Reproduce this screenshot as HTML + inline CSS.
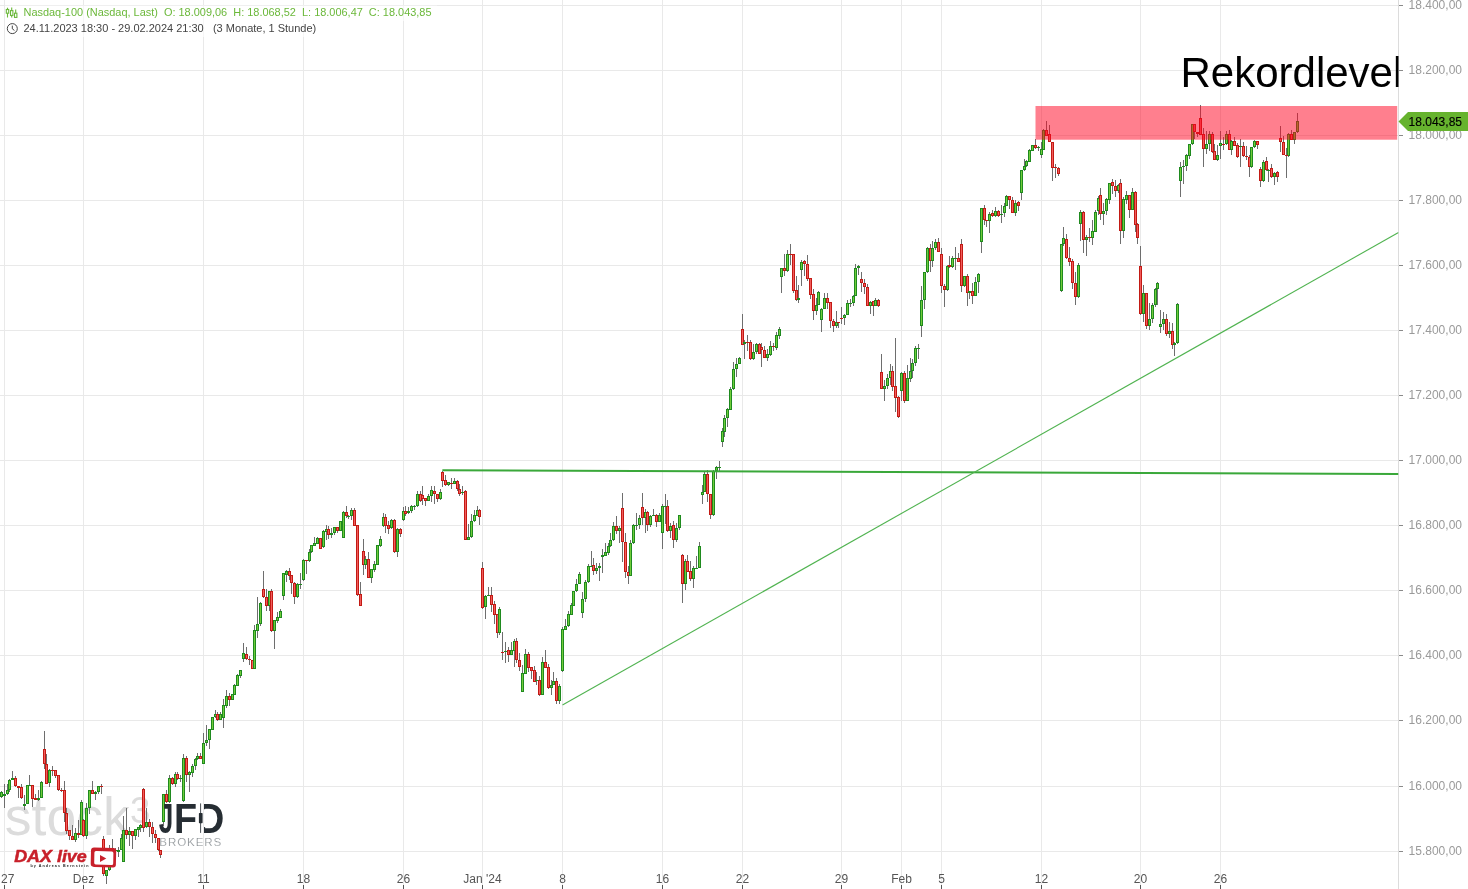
<!DOCTYPE html>
<html lang="de"><head><meta charset="utf-8"><title>Nasdaq-100 Chart</title>
<style>html,body{margin:0;padding:0;background:#fff;overflow:hidden}body{width:1468px;height:889px;position:relative}</style></head>
<body>
<svg width="1468" height="889" viewBox="0 0 1468 889" style="position:absolute;left:0;top:0;will-change:transform">
<defs><clipPath id="cp"><rect x="0" y="0" width="1398.5" height="889"/></clipPath></defs>
<g stroke="#e9e9e9" stroke-width="1">
<line x1="0" y1="5.5" x2="1398" y2="5.5"/>
<line x1="0" y1="70.5" x2="1398" y2="70.5"/>
<line x1="0" y1="135.5" x2="1398" y2="135.5"/>
<line x1="0" y1="200.5" x2="1398" y2="200.5"/>
<line x1="0" y1="265.5" x2="1398" y2="265.5"/>
<line x1="0" y1="330.5" x2="1398" y2="330.5"/>
<line x1="0" y1="395.5" x2="1398" y2="395.5"/>
<line x1="0" y1="460.5" x2="1398" y2="460.5"/>
<line x1="0" y1="525.5" x2="1398" y2="525.5"/>
<line x1="0" y1="590.5" x2="1398" y2="590.5"/>
<line x1="0" y1="655.5" x2="1398" y2="655.5"/>
<line x1="0" y1="720.5" x2="1398" y2="720.5"/>
<line x1="0" y1="786.5" x2="1398" y2="786.5"/>
<line x1="0" y1="851.5" x2="1398" y2="851.5"/>
<line x1="4.5" y1="0" x2="4.5" y2="889"/>
<line x1="83.5" y1="0" x2="83.5" y2="889"/>
<line x1="203.5" y1="0" x2="203.5" y2="889"/>
<line x1="303.5" y1="0" x2="303.5" y2="889"/>
<line x1="403.5" y1="0" x2="403.5" y2="889"/>
<line x1="482.5" y1="0" x2="482.5" y2="889"/>
<line x1="562.5" y1="0" x2="562.5" y2="889"/>
<line x1="662.5" y1="0" x2="662.5" y2="889"/>
<line x1="742.5" y1="0" x2="742.5" y2="889"/>
<line x1="841.5" y1="0" x2="841.5" y2="889"/>
<line x1="901.5" y1="0" x2="901.5" y2="889"/>
<line x1="941.5" y1="0" x2="941.5" y2="889"/>
<line x1="1041.5" y1="0" x2="1041.5" y2="889"/>
<line x1="1140.5" y1="0" x2="1140.5" y2="889"/>
<line x1="1220.5" y1="0" x2="1220.5" y2="889"/>
</g>
<line x1="1398.5" y1="0" x2="1398.5" y2="889" stroke="#dcdcdc" stroke-width="1"/>
<g stroke="#8a8a8a" stroke-width="1">
<line x1="1399" y1="5.5" x2="1403" y2="5.5"/>
<line x1="1399" y1="70.5" x2="1403" y2="70.5"/>
<line x1="1399" y1="135.5" x2="1403" y2="135.5"/>
<line x1="1399" y1="200.5" x2="1403" y2="200.5"/>
<line x1="1399" y1="265.5" x2="1403" y2="265.5"/>
<line x1="1399" y1="330.5" x2="1403" y2="330.5"/>
<line x1="1399" y1="395.5" x2="1403" y2="395.5"/>
<line x1="1399" y1="460.5" x2="1403" y2="460.5"/>
<line x1="1399" y1="525.5" x2="1403" y2="525.5"/>
<line x1="1399" y1="590.5" x2="1403" y2="590.5"/>
<line x1="1399" y1="655.5" x2="1403" y2="655.5"/>
<line x1="1399" y1="720.5" x2="1403" y2="720.5"/>
<line x1="1399" y1="786.5" x2="1403" y2="786.5"/>
<line x1="1399" y1="851.5" x2="1403" y2="851.5"/>
</g>
<g font-family="Liberation Sans, Arial, sans-serif" font-size="12" fill="#9a9a9a">
<text x="1408.6" y="9.2">18.400,00</text>
<text x="1408.6" y="74.2">18.200,00</text>
<text x="1408.6" y="139.2">18.000,00</text>
<text x="1408.6" y="204.2">17.800,00</text>
<text x="1408.6" y="269.2">17.600,00</text>
<text x="1408.6" y="334.2">17.400,00</text>
<text x="1408.6" y="399.2">17.200,00</text>
<text x="1408.6" y="464.2">17.000,00</text>
<text x="1408.6" y="529.2">16.800,00</text>
<text x="1408.6" y="594.2">16.600,00</text>
<text x="1408.6" y="659.2">16.400,00</text>
<text x="1408.6" y="724.2">16.200,00</text>
<text x="1408.6" y="790.2">16.000,00</text>
<text x="1408.6" y="855.2">15.800,00</text>
</g>
<g stroke="#555" stroke-width="1">
<line x1="4.5" y1="885" x2="4.5" y2="889"/>
<line x1="83.5" y1="885" x2="83.5" y2="889"/>
<line x1="203.5" y1="885" x2="203.5" y2="889"/>
<line x1="303.5" y1="885" x2="303.5" y2="889"/>
<line x1="403.5" y1="885" x2="403.5" y2="889"/>
<line x1="482.5" y1="885" x2="482.5" y2="889"/>
<line x1="562.5" y1="885" x2="562.5" y2="889"/>
<line x1="662.5" y1="885" x2="662.5" y2="889"/>
<line x1="742.5" y1="885" x2="742.5" y2="889"/>
<line x1="841.5" y1="885" x2="841.5" y2="889"/>
<line x1="901.5" y1="885" x2="901.5" y2="889"/>
<line x1="941.5" y1="885" x2="941.5" y2="889"/>
<line x1="1041.5" y1="885" x2="1041.5" y2="889"/>
<line x1="1140.5" y1="885" x2="1140.5" y2="889"/>
<line x1="1220.5" y1="885" x2="1220.5" y2="889"/>
</g>
<g font-family="Liberation Sans, Arial, sans-serif" font-size="12" fill="#555" text-anchor="middle">
<text x="1" y="883" text-anchor="start">27</text>
<text x="83.5" y="883">Dez</text>
<text x="203.5" y="883">11</text>
<text x="303.5" y="883">18</text>
<text x="403.5" y="883">26</text>
<text x="482.5" y="883">Jan '24</text>
<text x="562.5" y="883">8</text>
<text x="662.5" y="883">16</text>
<text x="742.5" y="883">22</text>
<text x="841.5" y="883">29</text>
<text x="901.5" y="883">Feb</text>
<text x="941.5" y="883">5</text>
<text x="1041.5" y="883">12</text>
<text x="1140.5" y="883">20</text>
<text x="1220.5" y="883">26</text>
</g>
<g font-family="Liberation Sans, Arial, sans-serif" fill="#dcdcdc">
<text x="4.8" y="835" font-size="53.5">stock</text>
<text x="130" y="823" font-size="36.5">3</text>
</g>
<g clip-path="url(#cp)">
<path d="M1.5 791V798M4.5 784V808M7.5 784V795M9.5 779V792M12.5 771V780M15.5 776V787M18.5 786V798M21.5 784V799M24.5 795V810M29.5 775V786M32.5 785V807M35.5 794V800M38.5 790V801M41.5 781V798M44.5 731V769M46.5 754V784M49.5 769V787M52.5 766V776M55.5 770V778M58.5 775V791M61.5 788V792M64.5 781V822M66.5 808V834M69.5 830V840M72.5 825V840M75.5 828V842M78.5 820V838M81.5 800V835M83.5 819V837M86.5 803V839M89.5 790V814M92.5 781V794M95.5 791V800M98.5 786V794M101.5 784V794M103.5 836V876M106.5 870V884M109.5 845V871M112.5 839V851M115.5 848V855M118.5 847V857M121.5 834V850M123.5 816V862M126.5 808V839M129.5 827V846M132.5 831V849M135.5 829V840M138.5 827V837M140.5 824V832M143.5 788V832M146.5 808V828M149.5 819V837M152.5 822V843M155.5 830V843M158.5 838V851M160.5 850V858M163.5 794V826M166.5 790V803M169.5 775V803M172.5 777V785M175.5 772V787M177.5 772V780M180.5 775V782M183.5 754V802M186.5 756V782M189.5 771V792M192.5 764V777M195.5 758V770M197.5 753V760M200.5 753V759M203.5 733V764M206.5 725V746M209.5 729V749M215.5 710V718M217.5 712V721M220.5 712V720M223.5 699V728M226.5 690V708M229.5 693V706M234.5 684V695M237.5 674V686M240.5 670V678M243.5 643V662M246.5 647V660M249.5 656V665M254.5 625V669M257.5 597V638M260.5 602V626M263.5 571V598M266.5 589V611M269.5 591V611M271.5 589V632M274.5 620V649M277.5 612V623M280.5 609V618M283.5 573V600M286.5 570V582M289.5 568V580M291.5 575V594M294.5 582V604M297.5 583V598M300.5 573V589M303.5 559V581M306.5 560V574M309.5 549V562M311.5 545V553M314.5 537V546M317.5 537V544M323.5 530V548M326.5 525V540M328.5 526V539M331.5 528V538M334.5 527V535M337.5 527V533M343.5 511V538M346.5 506V518M348.5 515V519M351.5 508V520M354.5 508V526M357.5 525V596M360.5 582V606M363.5 539V575M365.5 556V569M368.5 552V578M371.5 569V583M374.5 561V572M380.5 536V547M383.5 513V527M385.5 514V533M388.5 521V534M391.5 519V529M394.5 519V553M397.5 528V557M400.5 528V537M403.5 507V521M405.5 506V516M408.5 507V514M411.5 505V513M414.5 505V510M417.5 491V507M420.5 491V502M422.5 486V505M425.5 498V506M428.5 494V501M431.5 486V502M434.5 486V504M437.5 494V502M440.5 489V500M442.5 471V487M445.5 475V486M448.5 482V486M451.5 478V489M454.5 478V484M457.5 480V491M459.5 484V496M462.5 486V495M465.5 490V540M468.5 524V540M471.5 514V538M474.5 510V522M477.5 506V516M479.5 509V525M482.5 562V609M485.5 595V619M488.5 587V596M491.5 587V612M494.5 601V624M497.5 614V638M499.5 607V635M502.5 632V660M505.5 642V663M508.5 647V662M511.5 642V655M514.5 639V667M516.5 638V663M519.5 653V671M522.5 665V692M525.5 649V674M528.5 652V672M531.5 667V679M534.5 666V682M536.5 672V685M539.5 676V696M542.5 657V695M545.5 650V668M548.5 664V689M551.5 680V695M553.5 672V685M556.5 678V704M559.5 684V704M562.5 627V672M565.5 619V630M568.5 611V627M571.5 603V615M576.5 579V592M579.5 572V584M582.5 592V618M585.5 580V602M588.5 564V583M591.5 551V566M593.5 558V575M596.5 563V574M599.5 563V581M602.5 549V573M605.5 543V556M608.5 543V555M610.5 533V547M613.5 522V541M616.5 516V534M619.5 526V543M622.5 493V562M625.5 533V578M628.5 566V584M630.5 540V576M633.5 524V544M636.5 513V530M639.5 515V529M642.5 493V525M645.5 509V533M647.5 511V531M650.5 515V527M653.5 509V516M656.5 514V527M659.5 513V522M662.5 504V549M665.5 494V524M667.5 500V532M670.5 523V538M673.5 521V548M676.5 523V542M679.5 515V530M682.5 554V603M685.5 559V590M687.5 555V572M690.5 561V581M693.5 566V588M696.5 556V569M699.5 542V568M702.5 485V504M704.5 471V492M707.5 470V502M710.5 494V519M713.5 470V516M716.5 466V479M719.5 461V471M722.5 428V447M724.5 415V437M727.5 408V427M730.5 387V410M733.5 362V390M736.5 358V377M739.5 357V364M742.5 314V345M744.5 340V359M747.5 335V351M750.5 340V360M753.5 344V360M756.5 343V354M759.5 343V354M761.5 343V367M764.5 346V358M767.5 349V361M770.5 341V356M773.5 343V351M776.5 332V350M779.5 327V339M781.5 268V293M784.5 254V276M787.5 250V272M790.5 244V265M793.5 254V293M796.5 276V301M798.5 285V303M801.5 260V286M804.5 260V276M807.5 255V281M810.5 278V299M813.5 289V320M816.5 298V315M818.5 291V305M821.5 308V332M824.5 293V309M827.5 293V309M830.5 302V328M833.5 319V332M836.5 311V328M838.5 322V328M841.5 307V324M844.5 314V325M847.5 300V315M850.5 299V307M853.5 295V306M855.5 264V296M858.5 265V275M861.5 272V292M864.5 279V294M867.5 284V306M870.5 301V314M873.5 301V316M875.5 298V306M878.5 299V307M881.5 354V389M884.5 380V401M887.5 374V389M890.5 364V385M892.5 366V391M895.5 338V412M898.5 396V418M901.5 372V401M904.5 371V403M907.5 365V401M910.5 358V382M912.5 359V378M915.5 346V366M918.5 344V359M921.5 286V337M924.5 272V309M927.5 247V273M930.5 244V272M932.5 241V267M935.5 239V250M938.5 238V252M941.5 248V293M944.5 284V307M947.5 265V291M949.5 256V268M952.5 256V268M955.5 247V270M958.5 253V262M961.5 239V292M964.5 276V287M967.5 274V306M969.5 291V299M972.5 283V304M975.5 277V296M978.5 273V293M981.5 208V253M984.5 205V225M986.5 220V227M989.5 212V233M992.5 210V217M995.5 207V217M998.5 210V217M1001.5 205V223M1004.5 203V217M1006.5 195V206M1009.5 196V209M1012.5 197V213M1015.5 200V216M1018.5 201V211M1021.5 170V200M1024.5 159V171M1026.5 160V167M1029.5 149V162M1035.5 139V149M1038.5 146V151M1041.5 142V158M1043.5 129V150M1046.5 121V136M1049.5 125V142M1052.5 142V181M1055.5 164V178M1058.5 167V176M1061.5 244V292M1063.5 227V246M1066.5 234V259M1069.5 247V266M1072.5 259V289M1075.5 272V305M1078.5 263V298M1080.5 210V241M1083.5 211V253M1086.5 235V256M1089.5 228V242M1092.5 220V245M1095.5 210V232M1098.5 196V215M1100.5 188V220M1103.5 203V225M1106.5 198V215M1109.5 183V204M1112.5 179V194M1115.5 180V197M1118.5 184V193M1120.5 179V244M1123.5 197V238M1126.5 191V204M1129.5 195V218M1132.5 188V210M1135.5 191V232M1137.5 223V244M1140.5 246V315M1143.5 285V322M1146.5 293V329M1149.5 303V330M1152.5 303V323M1155.5 288V307M1157.5 282V305M1160.5 310V333M1163.5 312V330M1166.5 314V336M1169.5 322V338M1172.5 323V349M1174.5 342V356M1177.5 303V344M1180.5 162V197M1183.5 160V184M1186.5 154V171M1189.5 144V159M1192.5 124V145M1194.5 124V139M1197.5 132V137M1200.5 105V135M1203.5 128V167M1206.5 131V154M1209.5 131V151M1212.5 132V153M1214.5 144V160M1217.5 145V161M1220.5 131V159M1223.5 137V150M1226.5 131V145M1229.5 130V150M1231.5 140V155M1234.5 137V146M1237.5 143V158M1240.5 139V167M1243.5 142V157M1246.5 146V160M1249.5 155V177M1251.5 147V168M1254.5 140V148M1257.5 141V149M1260.5 167V187M1263.5 160V182M1266.5 157V171M1268.5 169V182M1271.5 164V178M1274.5 172V185M1277.5 171V182M1280.5 126V152M1283.5 136V155M1286.5 148V178M1288.5 133V157M1291.5 130V140M1294.5 132V144M1297.5 113V133" stroke="#6e6e6e" stroke-width="1" fill="none"/>
<g stroke-width="1"><rect x="0.5" y="792.5" width="2" height="4" fill="#70cc3a" stroke="#1f8a1f"/><rect x="3.5" y="794.5" width="2" height="1" fill="#70cc3a" stroke="#1f8a1f"/><rect x="6.5" y="790.5" width="2" height="3" fill="#70cc3a" stroke="#1f8a1f"/><rect x="8.5" y="780.5" width="2" height="9" fill="#70cc3a" stroke="#1f8a1f"/><rect x="11.5" y="778.5" width="2" height="1" fill="#70cc3a" stroke="#1f8a1f"/><rect x="14.5" y="778.5" width="2" height="7" fill="#f25c5c" stroke="#c21a14"/><rect x="17.5" y="786.5" width="2" height="1" fill="#f25c5c" stroke="#c21a14"/><rect x="20.5" y="787.5" width="2" height="10" fill="#f25c5c" stroke="#c21a14"/><rect x="23.5" y="804.5" width="2" height="1" fill="#70cc3a" stroke="#1f8a1f"/><rect x="26.5" y="785.5" width="2" height="18" fill="#70cc3a" stroke="#1f8a1f"/><rect x="31.5" y="785.5" width="2" height="13" fill="#f25c5c" stroke="#c21a14"/><rect x="34.5" y="798.5" width="2" height="1" fill="#f25c5c" stroke="#c21a14"/><rect x="37.5" y="798.5" width="2" height="1" fill="#70cc3a" stroke="#1f8a1f"/><rect x="40.5" y="782.5" width="2" height="15" fill="#70cc3a" stroke="#1f8a1f"/><rect x="43.5" y="749.5" width="2" height="14" fill="#f25c5c" stroke="#c21a14"/><rect x="45.5" y="764.5" width="2" height="19" fill="#f25c5c" stroke="#c21a14"/><rect x="48.5" y="770.5" width="2" height="12" fill="#70cc3a" stroke="#1f8a1f"/><rect x="54.5" y="770.5" width="2" height="5" fill="#f25c5c" stroke="#c21a14"/><rect x="57.5" y="775.5" width="2" height="14" fill="#f25c5c" stroke="#c21a14"/><rect x="63.5" y="790.5" width="2" height="22" fill="#f25c5c" stroke="#c21a14"/><rect x="65.5" y="813.5" width="2" height="17" fill="#f25c5c" stroke="#c21a14"/><rect x="68.5" y="830.5" width="2" height="5" fill="#f25c5c" stroke="#c21a14"/><rect x="71.5" y="836.5" width="2" height="3" fill="#f25c5c" stroke="#c21a14"/><rect x="74.5" y="833.5" width="2" height="6" fill="#70cc3a" stroke="#1f8a1f"/><rect x="77.5" y="833.5" width="2" height="1" fill="#f25c5c" stroke="#c21a14"/><rect x="80.5" y="802.5" width="2" height="32" fill="#70cc3a" stroke="#1f8a1f"/><rect x="82.5" y="820.5" width="2" height="15" fill="#f25c5c" stroke="#c21a14"/><rect x="85.5" y="808.5" width="2" height="27" fill="#70cc3a" stroke="#1f8a1f"/><rect x="88.5" y="790.5" width="2" height="17" fill="#70cc3a" stroke="#1f8a1f"/><rect x="91.5" y="790.5" width="2" height="3" fill="#f25c5c" stroke="#c21a14"/><rect x="94.5" y="792.5" width="2" height="1" fill="#70cc3a" stroke="#1f8a1f"/><rect x="97.5" y="786.5" width="2" height="5" fill="#70cc3a" stroke="#1f8a1f"/><rect x="102.5" y="839.5" width="2" height="34" fill="#f25c5c" stroke="#c21a14"/><rect x="105.5" y="870.5" width="2" height="5" fill="#70cc3a" stroke="#1f8a1f"/><rect x="108.5" y="848.5" width="2" height="21" fill="#70cc3a" stroke="#1f8a1f"/><rect x="111.5" y="848.5" width="2" height="1" fill="#f25c5c" stroke="#c21a14"/><rect x="117.5" y="850.5" width="2" height="1" fill="#70cc3a" stroke="#1f8a1f"/><rect x="120.5" y="838.5" width="2" height="11" fill="#70cc3a" stroke="#1f8a1f"/><rect x="122.5" y="830.5" width="2" height="31" fill="#70cc3a" stroke="#1f8a1f"/><rect x="125.5" y="830.5" width="2" height="4" fill="#f25c5c" stroke="#c21a14"/><rect x="128.5" y="831.5" width="2" height="3" fill="#70cc3a" stroke="#1f8a1f"/><rect x="131.5" y="831.5" width="2" height="4" fill="#f25c5c" stroke="#c21a14"/><rect x="134.5" y="829.5" width="2" height="6" fill="#70cc3a" stroke="#1f8a1f"/><rect x="137.5" y="827.5" width="2" height="2" fill="#70cc3a" stroke="#1f8a1f"/><rect x="139.5" y="825.5" width="2" height="2" fill="#70cc3a" stroke="#1f8a1f"/><rect x="142.5" y="789.5" width="2" height="38" fill="#f25c5c" stroke="#c21a14"/><rect x="145.5" y="822.5" width="2" height="4" fill="#70cc3a" stroke="#1f8a1f"/><rect x="148.5" y="822.5" width="2" height="4" fill="#f25c5c" stroke="#c21a14"/><rect x="151.5" y="827.5" width="2" height="6" fill="#f25c5c" stroke="#c21a14"/><rect x="154.5" y="834.5" width="2" height="3" fill="#f25c5c" stroke="#c21a14"/><rect x="157.5" y="838.5" width="2" height="11" fill="#f25c5c" stroke="#c21a14"/><rect x="159.5" y="850.5" width="2" height="4" fill="#f25c5c" stroke="#c21a14"/><rect x="162.5" y="794.5" width="2" height="27" fill="#70cc3a" stroke="#1f8a1f"/><rect x="165.5" y="794.5" width="2" height="7" fill="#f25c5c" stroke="#c21a14"/><rect x="168.5" y="778.5" width="2" height="23" fill="#70cc3a" stroke="#1f8a1f"/><rect x="171.5" y="778.5" width="2" height="5" fill="#f25c5c" stroke="#c21a14"/><rect x="174.5" y="774.5" width="2" height="9" fill="#70cc3a" stroke="#1f8a1f"/><rect x="176.5" y="774.5" width="2" height="4" fill="#f25c5c" stroke="#c21a14"/><rect x="182.5" y="758.5" width="2" height="42" fill="#70cc3a" stroke="#1f8a1f"/><rect x="185.5" y="758.5" width="2" height="16" fill="#f25c5c" stroke="#c21a14"/><rect x="188.5" y="772.5" width="2" height="2" fill="#70cc3a" stroke="#1f8a1f"/><rect x="191.5" y="766.5" width="2" height="6" fill="#70cc3a" stroke="#1f8a1f"/><rect x="194.5" y="759.5" width="2" height="6" fill="#70cc3a" stroke="#1f8a1f"/><rect x="196.5" y="756.5" width="2" height="2" fill="#70cc3a" stroke="#1f8a1f"/><rect x="199.5" y="756.5" width="2" height="2" fill="#f25c5c" stroke="#c21a14"/><rect x="202.5" y="743.5" width="2" height="20" fill="#70cc3a" stroke="#1f8a1f"/><rect x="205.5" y="740.5" width="2" height="2" fill="#70cc3a" stroke="#1f8a1f"/><rect x="208.5" y="729.5" width="2" height="10" fill="#70cc3a" stroke="#1f8a1f"/><rect x="211.5" y="717.5" width="2" height="12" fill="#70cc3a" stroke="#1f8a1f"/><rect x="214.5" y="714.5" width="2" height="2" fill="#70cc3a" stroke="#1f8a1f"/><rect x="216.5" y="714.5" width="2" height="5" fill="#f25c5c" stroke="#c21a14"/><rect x="219.5" y="714.5" width="2" height="5" fill="#70cc3a" stroke="#1f8a1f"/><rect x="222.5" y="705.5" width="2" height="12" fill="#70cc3a" stroke="#1f8a1f"/><rect x="225.5" y="696.5" width="2" height="9" fill="#70cc3a" stroke="#1f8a1f"/><rect x="228.5" y="696.5" width="2" height="3" fill="#f25c5c" stroke="#c21a14"/><rect x="231.5" y="694.5" width="2" height="5" fill="#70cc3a" stroke="#1f8a1f"/><rect x="233.5" y="685.5" width="2" height="9" fill="#70cc3a" stroke="#1f8a1f"/><rect x="236.5" y="675.5" width="2" height="10" fill="#70cc3a" stroke="#1f8a1f"/><rect x="239.5" y="670.5" width="2" height="5" fill="#70cc3a" stroke="#1f8a1f"/><rect x="242.5" y="653.5" width="2" height="5" fill="#70cc3a" stroke="#1f8a1f"/><rect x="245.5" y="654.5" width="2" height="4" fill="#f25c5c" stroke="#c21a14"/><rect x="251.5" y="660.5" width="2" height="8" fill="#f25c5c" stroke="#c21a14"/><rect x="253.5" y="630.5" width="2" height="38" fill="#70cc3a" stroke="#1f8a1f"/><rect x="256.5" y="624.5" width="2" height="6" fill="#70cc3a" stroke="#1f8a1f"/><rect x="259.5" y="603.5" width="2" height="20" fill="#70cc3a" stroke="#1f8a1f"/><rect x="262.5" y="589.5" width="2" height="7" fill="#f25c5c" stroke="#c21a14"/><rect x="265.5" y="597.5" width="2" height="8" fill="#f25c5c" stroke="#c21a14"/><rect x="268.5" y="591.5" width="2" height="14" fill="#70cc3a" stroke="#1f8a1f"/><rect x="270.5" y="591.5" width="2" height="39" fill="#f25c5c" stroke="#c21a14"/><rect x="273.5" y="620.5" width="2" height="10" fill="#70cc3a" stroke="#1f8a1f"/><rect x="276.5" y="617.5" width="2" height="3" fill="#70cc3a" stroke="#1f8a1f"/><rect x="279.5" y="611.5" width="2" height="6" fill="#70cc3a" stroke="#1f8a1f"/><rect x="282.5" y="573.5" width="2" height="22" fill="#70cc3a" stroke="#1f8a1f"/><rect x="285.5" y="571.5" width="2" height="3" fill="#70cc3a" stroke="#1f8a1f"/><rect x="288.5" y="571.5" width="2" height="4" fill="#f25c5c" stroke="#c21a14"/><rect x="290.5" y="575.5" width="2" height="7" fill="#f25c5c" stroke="#c21a14"/><rect x="293.5" y="583.5" width="2" height="13" fill="#f25c5c" stroke="#c21a14"/><rect x="296.5" y="584.5" width="2" height="12" fill="#70cc3a" stroke="#1f8a1f"/><rect x="302.5" y="560.5" width="2" height="19" fill="#70cc3a" stroke="#1f8a1f"/><rect x="308.5" y="552.5" width="2" height="8" fill="#70cc3a" stroke="#1f8a1f"/><rect x="310.5" y="545.5" width="2" height="6" fill="#70cc3a" stroke="#1f8a1f"/><rect x="313.5" y="543.5" width="2" height="2" fill="#70cc3a" stroke="#1f8a1f"/><rect x="316.5" y="538.5" width="2" height="5" fill="#70cc3a" stroke="#1f8a1f"/><rect x="319.5" y="538.5" width="2" height="10" fill="#f25c5c" stroke="#c21a14"/><rect x="322.5" y="531.5" width="2" height="15" fill="#70cc3a" stroke="#1f8a1f"/><rect x="325.5" y="529.5" width="2" height="2" fill="#70cc3a" stroke="#1f8a1f"/><rect x="327.5" y="529.5" width="2" height="5" fill="#f25c5c" stroke="#c21a14"/><rect x="330.5" y="533.5" width="2" height="1" fill="#70cc3a" stroke="#1f8a1f"/><rect x="333.5" y="527.5" width="2" height="5" fill="#70cc3a" stroke="#1f8a1f"/><rect x="336.5" y="527.5" width="2" height="3" fill="#f25c5c" stroke="#c21a14"/><rect x="339.5" y="521.5" width="2" height="9" fill="#70cc3a" stroke="#1f8a1f"/><rect x="342.5" y="512.5" width="2" height="25" fill="#70cc3a" stroke="#1f8a1f"/><rect x="345.5" y="512.5" width="2" height="3" fill="#f25c5c" stroke="#c21a14"/><rect x="350.5" y="510.5" width="2" height="5" fill="#70cc3a" stroke="#1f8a1f"/><rect x="353.5" y="510.5" width="2" height="15" fill="#f25c5c" stroke="#c21a14"/><rect x="356.5" y="525.5" width="2" height="69" fill="#f25c5c" stroke="#c21a14"/><rect x="359.5" y="594.5" width="2" height="11" fill="#f25c5c" stroke="#c21a14"/><rect x="362.5" y="551.5" width="2" height="13" fill="#f25c5c" stroke="#c21a14"/><rect x="364.5" y="559.5" width="2" height="5" fill="#70cc3a" stroke="#1f8a1f"/><rect x="367.5" y="559.5" width="2" height="18" fill="#f25c5c" stroke="#c21a14"/><rect x="370.5" y="569.5" width="2" height="8" fill="#70cc3a" stroke="#1f8a1f"/><rect x="373.5" y="564.5" width="2" height="5" fill="#70cc3a" stroke="#1f8a1f"/><rect x="376.5" y="545.5" width="2" height="19" fill="#70cc3a" stroke="#1f8a1f"/><rect x="379.5" y="539.5" width="2" height="6" fill="#70cc3a" stroke="#1f8a1f"/><rect x="382.5" y="517.5" width="2" height="8" fill="#70cc3a" stroke="#1f8a1f"/><rect x="384.5" y="517.5" width="2" height="8" fill="#f25c5c" stroke="#c21a14"/><rect x="387.5" y="525.5" width="2" height="3" fill="#f25c5c" stroke="#c21a14"/><rect x="390.5" y="520.5" width="2" height="7" fill="#70cc3a" stroke="#1f8a1f"/><rect x="393.5" y="520.5" width="2" height="31" fill="#f25c5c" stroke="#c21a14"/><rect x="396.5" y="529.5" width="2" height="22" fill="#70cc3a" stroke="#1f8a1f"/><rect x="399.5" y="529.5" width="2" height="4" fill="#f25c5c" stroke="#c21a14"/><rect x="402.5" y="511.5" width="2" height="8" fill="#70cc3a" stroke="#1f8a1f"/><rect x="404.5" y="511.5" width="2" height="2" fill="#f25c5c" stroke="#c21a14"/><rect x="407.5" y="511.5" width="2" height="1" fill="#70cc3a" stroke="#1f8a1f"/><rect x="410.5" y="506.5" width="2" height="4" fill="#70cc3a" stroke="#1f8a1f"/><rect x="416.5" y="494.5" width="2" height="11" fill="#70cc3a" stroke="#1f8a1f"/><rect x="419.5" y="494.5" width="2" height="6" fill="#f25c5c" stroke="#c21a14"/><rect x="421.5" y="495.5" width="2" height="3" fill="#f25c5c" stroke="#c21a14"/><rect x="424.5" y="498.5" width="2" height="2" fill="#f25c5c" stroke="#c21a14"/><rect x="427.5" y="496.5" width="2" height="4" fill="#70cc3a" stroke="#1f8a1f"/><rect x="430.5" y="490.5" width="2" height="5" fill="#70cc3a" stroke="#1f8a1f"/><rect x="433.5" y="491.5" width="2" height="2" fill="#f25c5c" stroke="#c21a14"/><rect x="436.5" y="494.5" width="2" height="4" fill="#f25c5c" stroke="#c21a14"/><rect x="439.5" y="492.5" width="2" height="6" fill="#70cc3a" stroke="#1f8a1f"/><rect x="441.5" y="472.5" width="2" height="8" fill="#f25c5c" stroke="#c21a14"/><rect x="444.5" y="480.5" width="2" height="4" fill="#f25c5c" stroke="#c21a14"/><rect x="447.5" y="482.5" width="2" height="2" fill="#70cc3a" stroke="#1f8a1f"/><rect x="453.5" y="481.5" width="2" height="2" fill="#70cc3a" stroke="#1f8a1f"/><rect x="456.5" y="481.5" width="2" height="7" fill="#f25c5c" stroke="#c21a14"/><rect x="458.5" y="489.5" width="2" height="4" fill="#f25c5c" stroke="#c21a14"/><rect x="464.5" y="491.5" width="2" height="48" fill="#f25c5c" stroke="#c21a14"/><rect x="467.5" y="537.5" width="2" height="2" fill="#70cc3a" stroke="#1f8a1f"/><rect x="470.5" y="521.5" width="2" height="15" fill="#70cc3a" stroke="#1f8a1f"/><rect x="473.5" y="515.5" width="2" height="5" fill="#70cc3a" stroke="#1f8a1f"/><rect x="476.5" y="510.5" width="2" height="5" fill="#70cc3a" stroke="#1f8a1f"/><rect x="478.5" y="510.5" width="2" height="6" fill="#f25c5c" stroke="#c21a14"/><rect x="481.5" y="568.5" width="2" height="39" fill="#f25c5c" stroke="#c21a14"/><rect x="484.5" y="596.5" width="2" height="10" fill="#70cc3a" stroke="#1f8a1f"/><rect x="490.5" y="595.5" width="2" height="9" fill="#f25c5c" stroke="#c21a14"/><rect x="493.5" y="604.5" width="2" height="10" fill="#f25c5c" stroke="#c21a14"/><rect x="496.5" y="614.5" width="2" height="18" fill="#f25c5c" stroke="#c21a14"/><rect x="498.5" y="609.5" width="2" height="23" fill="#70cc3a" stroke="#1f8a1f"/><rect x="507.5" y="650.5" width="2" height="4" fill="#f25c5c" stroke="#c21a14"/><rect x="510.5" y="650.5" width="2" height="4" fill="#70cc3a" stroke="#1f8a1f"/><rect x="513.5" y="641.5" width="2" height="9" fill="#70cc3a" stroke="#1f8a1f"/><rect x="515.5" y="641.5" width="2" height="18" fill="#f25c5c" stroke="#c21a14"/><rect x="518.5" y="660.5" width="2" height="6" fill="#f25c5c" stroke="#c21a14"/><rect x="521.5" y="673.5" width="2" height="18" fill="#70cc3a" stroke="#1f8a1f"/><rect x="524.5" y="654.5" width="2" height="19" fill="#70cc3a" stroke="#1f8a1f"/><rect x="527.5" y="654.5" width="2" height="13" fill="#f25c5c" stroke="#c21a14"/><rect x="530.5" y="667.5" width="2" height="3" fill="#f25c5c" stroke="#c21a14"/><rect x="533.5" y="670.5" width="2" height="11" fill="#f25c5c" stroke="#c21a14"/><rect x="538.5" y="680.5" width="2" height="14" fill="#f25c5c" stroke="#c21a14"/><rect x="541.5" y="662.5" width="2" height="32" fill="#70cc3a" stroke="#1f8a1f"/><rect x="544.5" y="662.5" width="2" height="5" fill="#f25c5c" stroke="#c21a14"/><rect x="547.5" y="667.5" width="2" height="20" fill="#f25c5c" stroke="#c21a14"/><rect x="550.5" y="685.5" width="2" height="2" fill="#70cc3a" stroke="#1f8a1f"/><rect x="552.5" y="681.5" width="2" height="3" fill="#70cc3a" stroke="#1f8a1f"/><rect x="555.5" y="681.5" width="2" height="19" fill="#f25c5c" stroke="#c21a14"/><rect x="558.5" y="686.5" width="2" height="14" fill="#70cc3a" stroke="#1f8a1f"/><rect x="561.5" y="629.5" width="2" height="41" fill="#70cc3a" stroke="#1f8a1f"/><rect x="564.5" y="626.5" width="2" height="3" fill="#70cc3a" stroke="#1f8a1f"/><rect x="567.5" y="614.5" width="2" height="11" fill="#70cc3a" stroke="#1f8a1f"/><rect x="570.5" y="605.5" width="2" height="9" fill="#70cc3a" stroke="#1f8a1f"/><rect x="572.5" y="591.5" width="2" height="14" fill="#70cc3a" stroke="#1f8a1f"/><rect x="575.5" y="584.5" width="2" height="6" fill="#70cc3a" stroke="#1f8a1f"/><rect x="578.5" y="574.5" width="2" height="9" fill="#70cc3a" stroke="#1f8a1f"/><rect x="581.5" y="599.5" width="2" height="13" fill="#70cc3a" stroke="#1f8a1f"/><rect x="584.5" y="582.5" width="2" height="16" fill="#70cc3a" stroke="#1f8a1f"/><rect x="587.5" y="566.5" width="2" height="15" fill="#70cc3a" stroke="#1f8a1f"/><rect x="592.5" y="565.5" width="2" height="5" fill="#f25c5c" stroke="#c21a14"/><rect x="595.5" y="568.5" width="2" height="2" fill="#70cc3a" stroke="#1f8a1f"/><rect x="598.5" y="566.5" width="2" height="1" fill="#70cc3a" stroke="#1f8a1f"/><rect x="601.5" y="555.5" width="2" height="1" fill="#70cc3a" stroke="#1f8a1f"/><rect x="604.5" y="552.5" width="2" height="3" fill="#70cc3a" stroke="#1f8a1f"/><rect x="607.5" y="546.5" width="2" height="6" fill="#70cc3a" stroke="#1f8a1f"/><rect x="609.5" y="540.5" width="2" height="5" fill="#70cc3a" stroke="#1f8a1f"/><rect x="612.5" y="526.5" width="2" height="13" fill="#70cc3a" stroke="#1f8a1f"/><rect x="615.5" y="526.5" width="2" height="4" fill="#f25c5c" stroke="#c21a14"/><rect x="618.5" y="528.5" width="2" height="2" fill="#70cc3a" stroke="#1f8a1f"/><rect x="621.5" y="508.5" width="2" height="33" fill="#f25c5c" stroke="#c21a14"/><rect x="624.5" y="542.5" width="2" height="29" fill="#f25c5c" stroke="#c21a14"/><rect x="627.5" y="572.5" width="2" height="3" fill="#f25c5c" stroke="#c21a14"/><rect x="629.5" y="543.5" width="2" height="32" fill="#70cc3a" stroke="#1f8a1f"/><rect x="632.5" y="525.5" width="2" height="17" fill="#70cc3a" stroke="#1f8a1f"/><rect x="638.5" y="518.5" width="2" height="6" fill="#70cc3a" stroke="#1f8a1f"/><rect x="641.5" y="507.5" width="2" height="10" fill="#f25c5c" stroke="#c21a14"/><rect x="644.5" y="512.5" width="2" height="5" fill="#70cc3a" stroke="#1f8a1f"/><rect x="646.5" y="512.5" width="2" height="12" fill="#f25c5c" stroke="#c21a14"/><rect x="649.5" y="516.5" width="2" height="8" fill="#70cc3a" stroke="#1f8a1f"/><rect x="655.5" y="515.5" width="2" height="6" fill="#f25c5c" stroke="#c21a14"/><rect x="658.5" y="515.5" width="2" height="6" fill="#70cc3a" stroke="#1f8a1f"/><rect x="661.5" y="506.5" width="2" height="26" fill="#70cc3a" stroke="#1f8a1f"/><rect x="666.5" y="506.5" width="2" height="24" fill="#f25c5c" stroke="#c21a14"/><rect x="669.5" y="526.5" width="2" height="4" fill="#70cc3a" stroke="#1f8a1f"/><rect x="672.5" y="525.5" width="2" height="14" fill="#f25c5c" stroke="#c21a14"/><rect x="675.5" y="528.5" width="2" height="11" fill="#70cc3a" stroke="#1f8a1f"/><rect x="678.5" y="515.5" width="2" height="12" fill="#70cc3a" stroke="#1f8a1f"/><rect x="681.5" y="555.5" width="2" height="28" fill="#f25c5c" stroke="#c21a14"/><rect x="684.5" y="561.5" width="2" height="22" fill="#70cc3a" stroke="#1f8a1f"/><rect x="686.5" y="561.5" width="2" height="10" fill="#f25c5c" stroke="#c21a14"/><rect x="689.5" y="571.5" width="2" height="7" fill="#f25c5c" stroke="#c21a14"/><rect x="692.5" y="568.5" width="2" height="10" fill="#70cc3a" stroke="#1f8a1f"/><rect x="698.5" y="546.5" width="2" height="21" fill="#70cc3a" stroke="#1f8a1f"/><rect x="701.5" y="492.5" width="2" height="2" fill="#70cc3a" stroke="#1f8a1f"/><rect x="703.5" y="474.5" width="2" height="17" fill="#70cc3a" stroke="#1f8a1f"/><rect x="706.5" y="474.5" width="2" height="19" fill="#f25c5c" stroke="#c21a14"/><rect x="709.5" y="494.5" width="2" height="20" fill="#f25c5c" stroke="#c21a14"/><rect x="712.5" y="471.5" width="2" height="43" fill="#70cc3a" stroke="#1f8a1f"/><rect x="715.5" y="467.5" width="2" height="3" fill="#70cc3a" stroke="#1f8a1f"/><rect x="721.5" y="431.5" width="2" height="10" fill="#70cc3a" stroke="#1f8a1f"/><rect x="723.5" y="418.5" width="2" height="13" fill="#70cc3a" stroke="#1f8a1f"/><rect x="726.5" y="409.5" width="2" height="8" fill="#70cc3a" stroke="#1f8a1f"/><rect x="729.5" y="389.5" width="2" height="20" fill="#70cc3a" stroke="#1f8a1f"/><rect x="732.5" y="369.5" width="2" height="19" fill="#70cc3a" stroke="#1f8a1f"/><rect x="735.5" y="364.5" width="2" height="4" fill="#70cc3a" stroke="#1f8a1f"/><rect x="738.5" y="358.5" width="2" height="5" fill="#70cc3a" stroke="#1f8a1f"/><rect x="741.5" y="329.5" width="2" height="15" fill="#f25c5c" stroke="#c21a14"/><rect x="743.5" y="342.5" width="2" height="1" fill="#70cc3a" stroke="#1f8a1f"/><rect x="749.5" y="342.5" width="2" height="16" fill="#f25c5c" stroke="#c21a14"/><rect x="752.5" y="352.5" width="2" height="6" fill="#70cc3a" stroke="#1f8a1f"/><rect x="755.5" y="344.5" width="2" height="7" fill="#70cc3a" stroke="#1f8a1f"/><rect x="758.5" y="344.5" width="2" height="9" fill="#f25c5c" stroke="#c21a14"/><rect x="760.5" y="347.5" width="2" height="2" fill="#f25c5c" stroke="#c21a14"/><rect x="763.5" y="350.5" width="2" height="7" fill="#f25c5c" stroke="#c21a14"/><rect x="766.5" y="354.5" width="2" height="3" fill="#70cc3a" stroke="#1f8a1f"/><rect x="769.5" y="346.5" width="2" height="8" fill="#70cc3a" stroke="#1f8a1f"/><rect x="775.5" y="335.5" width="2" height="12" fill="#70cc3a" stroke="#1f8a1f"/><rect x="778.5" y="329.5" width="2" height="6" fill="#70cc3a" stroke="#1f8a1f"/><rect x="780.5" y="268.5" width="2" height="8" fill="#70cc3a" stroke="#1f8a1f"/><rect x="783.5" y="268.5" width="2" height="2" fill="#f25c5c" stroke="#c21a14"/><rect x="786.5" y="254.5" width="2" height="16" fill="#70cc3a" stroke="#1f8a1f"/><rect x="792.5" y="254.5" width="2" height="36" fill="#f25c5c" stroke="#c21a14"/><rect x="795.5" y="290.5" width="2" height="9" fill="#f25c5c" stroke="#c21a14"/><rect x="797.5" y="298.5" width="2" height="1" fill="#70cc3a" stroke="#1f8a1f"/><rect x="800.5" y="262.5" width="2" height="7" fill="#70cc3a" stroke="#1f8a1f"/><rect x="803.5" y="261.5" width="2" height="2" fill="#f25c5c" stroke="#c21a14"/><rect x="806.5" y="264.5" width="2" height="14" fill="#f25c5c" stroke="#c21a14"/><rect x="809.5" y="278.5" width="2" height="16" fill="#f25c5c" stroke="#c21a14"/><rect x="812.5" y="294.5" width="2" height="16" fill="#f25c5c" stroke="#c21a14"/><rect x="815.5" y="305.5" width="2" height="5" fill="#70cc3a" stroke="#1f8a1f"/><rect x="817.5" y="292.5" width="2" height="12" fill="#70cc3a" stroke="#1f8a1f"/><rect x="820.5" y="309.5" width="2" height="10" fill="#70cc3a" stroke="#1f8a1f"/><rect x="823.5" y="298.5" width="2" height="10" fill="#70cc3a" stroke="#1f8a1f"/><rect x="826.5" y="298.5" width="2" height="4" fill="#f25c5c" stroke="#c21a14"/><rect x="829.5" y="302.5" width="2" height="18" fill="#f25c5c" stroke="#c21a14"/><rect x="832.5" y="321.5" width="2" height="4" fill="#f25c5c" stroke="#c21a14"/><rect x="835.5" y="322.5" width="2" height="3" fill="#70cc3a" stroke="#1f8a1f"/><rect x="843.5" y="315.5" width="2" height="2" fill="#70cc3a" stroke="#1f8a1f"/><rect x="846.5" y="303.5" width="2" height="11" fill="#70cc3a" stroke="#1f8a1f"/><rect x="852.5" y="296.5" width="2" height="6" fill="#70cc3a" stroke="#1f8a1f"/><rect x="854.5" y="268.5" width="2" height="27" fill="#70cc3a" stroke="#1f8a1f"/><rect x="857.5" y="266.5" width="2" height="1" fill="#70cc3a" stroke="#1f8a1f"/><rect x="860.5" y="279.5" width="2" height="3" fill="#f25c5c" stroke="#c21a14"/><rect x="863.5" y="283.5" width="2" height="3" fill="#f25c5c" stroke="#c21a14"/><rect x="866.5" y="287.5" width="2" height="18" fill="#f25c5c" stroke="#c21a14"/><rect x="869.5" y="302.5" width="2" height="3" fill="#70cc3a" stroke="#1f8a1f"/><rect x="872.5" y="301.5" width="2" height="4" fill="#f25c5c" stroke="#c21a14"/><rect x="874.5" y="300.5" width="2" height="5" fill="#70cc3a" stroke="#1f8a1f"/><rect x="877.5" y="300.5" width="2" height="5" fill="#f25c5c" stroke="#c21a14"/><rect x="880.5" y="372.5" width="2" height="16" fill="#f25c5c" stroke="#c21a14"/><rect x="883.5" y="386.5" width="2" height="2" fill="#70cc3a" stroke="#1f8a1f"/><rect x="886.5" y="378.5" width="2" height="7" fill="#70cc3a" stroke="#1f8a1f"/><rect x="889.5" y="371.5" width="2" height="6" fill="#70cc3a" stroke="#1f8a1f"/><rect x="891.5" y="371.5" width="2" height="15" fill="#f25c5c" stroke="#c21a14"/><rect x="894.5" y="386.5" width="2" height="11" fill="#f25c5c" stroke="#c21a14"/><rect x="897.5" y="397.5" width="2" height="19" fill="#f25c5c" stroke="#c21a14"/><rect x="900.5" y="373.5" width="2" height="17" fill="#70cc3a" stroke="#1f8a1f"/><rect x="903.5" y="373.5" width="2" height="27" fill="#f25c5c" stroke="#c21a14"/><rect x="906.5" y="378.5" width="2" height="22" fill="#70cc3a" stroke="#1f8a1f"/><rect x="909.5" y="371.5" width="2" height="7" fill="#70cc3a" stroke="#1f8a1f"/><rect x="911.5" y="363.5" width="2" height="7" fill="#70cc3a" stroke="#1f8a1f"/><rect x="914.5" y="348.5" width="2" height="14" fill="#70cc3a" stroke="#1f8a1f"/><rect x="920.5" y="300.5" width="2" height="25" fill="#70cc3a" stroke="#1f8a1f"/><rect x="923.5" y="272.5" width="2" height="27" fill="#70cc3a" stroke="#1f8a1f"/><rect x="926.5" y="248.5" width="2" height="23" fill="#70cc3a" stroke="#1f8a1f"/><rect x="929.5" y="248.5" width="2" height="12" fill="#f25c5c" stroke="#c21a14"/><rect x="931.5" y="248.5" width="2" height="12" fill="#70cc3a" stroke="#1f8a1f"/><rect x="934.5" y="242.5" width="2" height="5" fill="#70cc3a" stroke="#1f8a1f"/><rect x="937.5" y="242.5" width="2" height="9" fill="#f25c5c" stroke="#c21a14"/><rect x="940.5" y="254.5" width="2" height="31" fill="#f25c5c" stroke="#c21a14"/><rect x="943.5" y="286.5" width="2" height="3" fill="#f25c5c" stroke="#c21a14"/><rect x="946.5" y="266.5" width="2" height="23" fill="#70cc3a" stroke="#1f8a1f"/><rect x="948.5" y="265.5" width="2" height="1" fill="#f25c5c" stroke="#c21a14"/><rect x="951.5" y="258.5" width="2" height="8" fill="#70cc3a" stroke="#1f8a1f"/><rect x="957.5" y="258.5" width="2" height="3" fill="#f25c5c" stroke="#c21a14"/><rect x="960.5" y="244.5" width="2" height="41" fill="#f25c5c" stroke="#c21a14"/><rect x="963.5" y="276.5" width="2" height="9" fill="#70cc3a" stroke="#1f8a1f"/><rect x="966.5" y="276.5" width="2" height="16" fill="#f25c5c" stroke="#c21a14"/><rect x="968.5" y="291.5" width="2" height="1" fill="#70cc3a" stroke="#1f8a1f"/><rect x="971.5" y="291.5" width="2" height="4" fill="#f25c5c" stroke="#c21a14"/><rect x="974.5" y="282.5" width="2" height="13" fill="#70cc3a" stroke="#1f8a1f"/><rect x="977.5" y="274.5" width="2" height="7" fill="#70cc3a" stroke="#1f8a1f"/><rect x="980.5" y="208.5" width="2" height="33" fill="#70cc3a" stroke="#1f8a1f"/><rect x="983.5" y="208.5" width="2" height="11" fill="#f25c5c" stroke="#c21a14"/><rect x="988.5" y="214.5" width="2" height="6" fill="#70cc3a" stroke="#1f8a1f"/><rect x="991.5" y="213.5" width="2" height="2" fill="#f25c5c" stroke="#c21a14"/><rect x="994.5" y="211.5" width="2" height="4" fill="#70cc3a" stroke="#1f8a1f"/><rect x="997.5" y="211.5" width="2" height="4" fill="#f25c5c" stroke="#c21a14"/><rect x="1003.5" y="206.5" width="2" height="6" fill="#70cc3a" stroke="#1f8a1f"/><rect x="1005.5" y="196.5" width="2" height="9" fill="#70cc3a" stroke="#1f8a1f"/><rect x="1008.5" y="196.5" width="2" height="3" fill="#f25c5c" stroke="#c21a14"/><rect x="1011.5" y="200.5" width="2" height="12" fill="#f25c5c" stroke="#c21a14"/><rect x="1014.5" y="203.5" width="2" height="9" fill="#70cc3a" stroke="#1f8a1f"/><rect x="1017.5" y="202.5" width="2" height="3" fill="#f25c5c" stroke="#c21a14"/><rect x="1020.5" y="170.5" width="2" height="22" fill="#70cc3a" stroke="#1f8a1f"/><rect x="1023.5" y="166.5" width="2" height="3" fill="#70cc3a" stroke="#1f8a1f"/><rect x="1025.5" y="161.5" width="2" height="4" fill="#70cc3a" stroke="#1f8a1f"/><rect x="1028.5" y="150.5" width="2" height="11" fill="#70cc3a" stroke="#1f8a1f"/><rect x="1031.5" y="145.5" width="2" height="5" fill="#70cc3a" stroke="#1f8a1f"/><rect x="1034.5" y="145.5" width="2" height="2" fill="#f25c5c" stroke="#c21a14"/><rect x="1040.5" y="149.5" width="2" height="5" fill="#70cc3a" stroke="#1f8a1f"/><rect x="1042.5" y="130.5" width="2" height="19" fill="#70cc3a" stroke="#1f8a1f"/><rect x="1045.5" y="130.5" width="2" height="5" fill="#f25c5c" stroke="#c21a14"/><rect x="1048.5" y="134.5" width="2" height="7" fill="#f25c5c" stroke="#c21a14"/><rect x="1051.5" y="142.5" width="2" height="25" fill="#f25c5c" stroke="#c21a14"/><rect x="1057.5" y="168.5" width="2" height="5" fill="#f25c5c" stroke="#c21a14"/><rect x="1060.5" y="244.5" width="2" height="46" fill="#70cc3a" stroke="#1f8a1f"/><rect x="1062.5" y="238.5" width="2" height="5" fill="#70cc3a" stroke="#1f8a1f"/><rect x="1065.5" y="239.5" width="2" height="18" fill="#f25c5c" stroke="#c21a14"/><rect x="1068.5" y="258.5" width="2" height="3" fill="#f25c5c" stroke="#c21a14"/><rect x="1071.5" y="261.5" width="2" height="21" fill="#f25c5c" stroke="#c21a14"/><rect x="1074.5" y="283.5" width="2" height="13" fill="#f25c5c" stroke="#c21a14"/><rect x="1077.5" y="265.5" width="2" height="31" fill="#70cc3a" stroke="#1f8a1f"/><rect x="1079.5" y="212.5" width="2" height="11" fill="#70cc3a" stroke="#1f8a1f"/><rect x="1082.5" y="212.5" width="2" height="27" fill="#f25c5c" stroke="#c21a14"/><rect x="1085.5" y="237.5" width="2" height="2" fill="#70cc3a" stroke="#1f8a1f"/><rect x="1091.5" y="231.5" width="2" height="6" fill="#70cc3a" stroke="#1f8a1f"/><rect x="1094.5" y="212.5" width="2" height="19" fill="#70cc3a" stroke="#1f8a1f"/><rect x="1097.5" y="198.5" width="2" height="12" fill="#70cc3a" stroke="#1f8a1f"/><rect x="1099.5" y="195.5" width="2" height="18" fill="#f25c5c" stroke="#c21a14"/><rect x="1102.5" y="211.5" width="2" height="2" fill="#70cc3a" stroke="#1f8a1f"/><rect x="1105.5" y="199.5" width="2" height="11" fill="#70cc3a" stroke="#1f8a1f"/><rect x="1108.5" y="183.5" width="2" height="16" fill="#70cc3a" stroke="#1f8a1f"/><rect x="1111.5" y="182.5" width="2" height="3" fill="#f25c5c" stroke="#c21a14"/><rect x="1114.5" y="186.5" width="2" height="4" fill="#f25c5c" stroke="#c21a14"/><rect x="1117.5" y="185.5" width="2" height="5" fill="#70cc3a" stroke="#1f8a1f"/><rect x="1119.5" y="183.5" width="2" height="47" fill="#f25c5c" stroke="#c21a14"/><rect x="1122.5" y="199.5" width="2" height="31" fill="#70cc3a" stroke="#1f8a1f"/><rect x="1125.5" y="195.5" width="2" height="4" fill="#70cc3a" stroke="#1f8a1f"/><rect x="1128.5" y="195.5" width="2" height="14" fill="#f25c5c" stroke="#c21a14"/><rect x="1131.5" y="192.5" width="2" height="17" fill="#70cc3a" stroke="#1f8a1f"/><rect x="1134.5" y="192.5" width="2" height="32" fill="#f25c5c" stroke="#c21a14"/><rect x="1136.5" y="224.5" width="2" height="13" fill="#f25c5c" stroke="#c21a14"/><rect x="1139.5" y="266.5" width="2" height="47" fill="#f25c5c" stroke="#c21a14"/><rect x="1142.5" y="293.5" width="2" height="20" fill="#70cc3a" stroke="#1f8a1f"/><rect x="1145.5" y="293.5" width="2" height="32" fill="#f25c5c" stroke="#c21a14"/><rect x="1148.5" y="319.5" width="2" height="6" fill="#70cc3a" stroke="#1f8a1f"/><rect x="1151.5" y="305.5" width="2" height="13" fill="#70cc3a" stroke="#1f8a1f"/><rect x="1154.5" y="289.5" width="2" height="15" fill="#70cc3a" stroke="#1f8a1f"/><rect x="1156.5" y="283.5" width="2" height="5" fill="#70cc3a" stroke="#1f8a1f"/><rect x="1159.5" y="324.5" width="2" height="2" fill="#70cc3a" stroke="#1f8a1f"/><rect x="1162.5" y="319.5" width="2" height="4" fill="#70cc3a" stroke="#1f8a1f"/><rect x="1165.5" y="319.5" width="2" height="14" fill="#f25c5c" stroke="#c21a14"/><rect x="1168.5" y="331.5" width="2" height="2" fill="#70cc3a" stroke="#1f8a1f"/><rect x="1171.5" y="331.5" width="2" height="13" fill="#f25c5c" stroke="#c21a14"/><rect x="1173.5" y="343.5" width="2" height="1" fill="#70cc3a" stroke="#1f8a1f"/><rect x="1176.5" y="304.5" width="2" height="38" fill="#70cc3a" stroke="#1f8a1f"/><rect x="1179.5" y="167.5" width="2" height="13" fill="#70cc3a" stroke="#1f8a1f"/><rect x="1185.5" y="155.5" width="2" height="10" fill="#70cc3a" stroke="#1f8a1f"/><rect x="1188.5" y="144.5" width="2" height="11" fill="#70cc3a" stroke="#1f8a1f"/><rect x="1191.5" y="124.5" width="2" height="19" fill="#70cc3a" stroke="#1f8a1f"/><rect x="1193.5" y="124.5" width="2" height="7" fill="#f25c5c" stroke="#c21a14"/><rect x="1196.5" y="132.5" width="2" height="1" fill="#f25c5c" stroke="#c21a14"/><rect x="1199.5" y="118.5" width="2" height="16" fill="#f25c5c" stroke="#c21a14"/><rect x="1202.5" y="134.5" width="2" height="14" fill="#f25c5c" stroke="#c21a14"/><rect x="1205.5" y="144.5" width="2" height="4" fill="#70cc3a" stroke="#1f8a1f"/><rect x="1208.5" y="134.5" width="2" height="9" fill="#70cc3a" stroke="#1f8a1f"/><rect x="1211.5" y="134.5" width="2" height="17" fill="#f25c5c" stroke="#c21a14"/><rect x="1213.5" y="151.5" width="2" height="8" fill="#f25c5c" stroke="#c21a14"/><rect x="1216.5" y="155.5" width="2" height="4" fill="#70cc3a" stroke="#1f8a1f"/><rect x="1219.5" y="143.5" width="2" height="2" fill="#70cc3a" stroke="#1f8a1f"/><rect x="1225.5" y="134.5" width="2" height="9" fill="#70cc3a" stroke="#1f8a1f"/><rect x="1228.5" y="134.5" width="2" height="15" fill="#f25c5c" stroke="#c21a14"/><rect x="1230.5" y="141.5" width="2" height="8" fill="#70cc3a" stroke="#1f8a1f"/><rect x="1233.5" y="141.5" width="2" height="4" fill="#f25c5c" stroke="#c21a14"/><rect x="1236.5" y="145.5" width="2" height="11" fill="#f25c5c" stroke="#c21a14"/><rect x="1242.5" y="146.5" width="2" height="9" fill="#f25c5c" stroke="#c21a14"/><rect x="1248.5" y="157.5" width="2" height="9" fill="#f25c5c" stroke="#c21a14"/><rect x="1250.5" y="147.5" width="2" height="19" fill="#70cc3a" stroke="#1f8a1f"/><rect x="1253.5" y="141.5" width="2" height="5" fill="#70cc3a" stroke="#1f8a1f"/><rect x="1256.5" y="141.5" width="2" height="3" fill="#f25c5c" stroke="#c21a14"/><rect x="1259.5" y="169.5" width="2" height="11" fill="#f25c5c" stroke="#c21a14"/><rect x="1262.5" y="162.5" width="2" height="18" fill="#70cc3a" stroke="#1f8a1f"/><rect x="1265.5" y="161.5" width="2" height="8" fill="#f25c5c" stroke="#c21a14"/><rect x="1270.5" y="168.5" width="2" height="8" fill="#f25c5c" stroke="#c21a14"/><rect x="1273.5" y="173.5" width="2" height="3" fill="#70cc3a" stroke="#1f8a1f"/><rect x="1276.5" y="172.5" width="2" height="4" fill="#f25c5c" stroke="#c21a14"/><rect x="1279.5" y="138.5" width="2" height="3" fill="#f25c5c" stroke="#c21a14"/><rect x="1282.5" y="142.5" width="2" height="12" fill="#f25c5c" stroke="#c21a14"/><rect x="1287.5" y="134.5" width="2" height="21" fill="#70cc3a" stroke="#1f8a1f"/><rect x="1290.5" y="134.5" width="2" height="5" fill="#f25c5c" stroke="#c21a14"/><rect x="1293.5" y="132.5" width="2" height="7" fill="#70cc3a" stroke="#1f8a1f"/><rect x="1296.5" y="121.5" width="2" height="10" fill="#70cc3a" stroke="#1f8a1f"/></g>
<path d="M28.0 785.5h3M114.0 850.5h3M179.0 778.5h3M299.0 584.5h3M347.0 516.5h3M413.0 506.5h3M461.0 492.5h3M487.0 595.5h3M504.0 651.5h3M535.0 680.5h3M590.0 566.5h3M635.0 525.5h3M652.0 515.5h3M664.0 506.5h3M695.0 568.5h3M718.0 467.5h3M849.0 303.5h3M917.0 348.5h3M954.0 258.5h3M1000.0 214.5h3M1037.0 147.5h3M1182.0 166.5h3M1239.0 146.5h3M1267.0 170.5h3" stroke="#1f8a1f" stroke-width="1" fill="none"/>
<path d="M51.0 770.5h3M60.0 790.5h3M100.0 786.5h3M248.0 659.5h3M305.0 560.5h3M450.0 483.5h3M501.0 652.5h3M746.0 342.5h3M772.0 346.5h3M789.0 254.5h3M837.0 322.5h3M840.0 318.5h3M985.0 220.5h3M1054.0 167.5h3M1088.0 237.5h3M1222.0 144.5h3M1245.0 156.5h3M1285.0 155.5h3" stroke="#c21a14" stroke-width="1" fill="none"/>
<line x1="442.4" y1="470.3" x2="1398.5" y2="474" stroke="#3aa83a" stroke-width="2"/>
<line x1="562.5" y1="705" x2="1398.5" y2="232.5" stroke="#50b350" stroke-width="1.1"/>
<rect x="1035.5" y="106" width="361.7" height="33.7" fill="rgba(255,0,30,0.5)"/>
<text x="1180.5" y="87" font-family="Liberation Sans, Arial, sans-serif" font-size="42" fill="#000">Rekordlevel</text>
</g>
<path d="M1398.5 121.5 L1408 112 H1468 V131 H1408 Z" fill="#66b32e"/>
<text x="1408.6" y="125.8" font-family="Liberation Sans, Arial, sans-serif" font-size="12" fill="#000" stroke="#000" stroke-width="0.15">18.043,85</text>
<rect x="5" y="5.5" width="432" height="15.5" fill="#fff" opacity="0.6"/><rect x="5" y="21" width="316" height="16" fill="#fff" opacity="0.6"/>
<g fill="none" stroke="#6bb83a" stroke-width="1.1">
<path d="M7.5 7.8V9.5M7.5 13.2V17.6M11.7 7.4V10.6M11.7 15.4V17.6M15.7 9.4V13.2"/>
<rect x="6.3" y="9.5" width="2.4" height="3.7"/><rect x="10.5" y="10.6" width="2.4" height="4.8"/><rect x="14.5" y="13.2" width="2.4" height="4.2"/>
</g>
<text x="23.5" y="16.4" font-family="Liberation Sans, Arial, sans-serif" font-size="10.95" fill="#6bb83a" xml:space="preserve">Nasdaq-100 (Nasdaq, Last)  O: 18.009,06  H: 18.068,52  L: 18.006,47  C: 18.043,85</text>
<circle cx="12.3" cy="28.6" r="5" fill="none" stroke="#444" stroke-width="1"/><path d="M12.3 25.6V28.8L14.4 30.4" fill="none" stroke="#444" stroke-width="1"/>
<text x="23.5" y="32.3" font-family="Liberation Sans, Arial, sans-serif" font-size="11" fill="#444" xml:space="preserve">24.11.2023 18:30 - 29.02.2024 21:30   (3 Monate, 1 Stunde)</text>
<g font-family="Liberation Sans, Arial, sans-serif" font-weight="bold" fill="#262d33" font-size="42.75">
<text transform="translate(158.74,832.9) scale(0.61,1)">J</text>
<text transform="translate(174.03,832.9) scale(0.883,1)">F</text>
<text transform="translate(197.25,832.9) scale(0.875,1)">D</text>
</g>
<rect x="197.5" y="802.5" width="5.7" height="31.5" fill="#fff"/>
<rect x="197.5" y="809.2" width="9.9" height="17.9" fill="#fff"/>
<line x1="203.5" y1="802.5" x2="203.5" y2="834" stroke="#e8e8e8" stroke-width="1"/>
<line x1="200.6" y1="803.4" x2="200.6" y2="832.9" stroke="#4a5056" stroke-width="1"/>
<rect x="198.9" y="813.1" width="3.7" height="10.1" rx="0.6" fill="#262d33"/>
<text x="159.3" y="845.7" font-family="Liberation Sans, Arial, sans-serif" font-size="11.6" fill="#858b8f" textLength="62" lengthAdjust="spacing" stroke="#fff" stroke-width="0.22">BROKERS</text>
<g font-family="Liberation Sans, Arial, sans-serif">
<text x="14.2" y="861.9" font-size="17" font-weight="bold" font-style="italic" fill="#c8202a" stroke="#c8202a" stroke-width="0.5" textLength="72.6" lengthAdjust="spacingAndGlyphs">DAX live</text>
<text x="30.5" y="867.1" font-size="3.7" font-weight="bold" fill="#222" textLength="58" lengthAdjust="spacing">by Andreas Bernstein</text>
</g>
<path d="M94.2 847.4 L113.5 848 Q116.3 848.2 116.2 851 L115.9 864.8 Q115.8 867.5 113 867.4 L94 866.9 Q90.6 866.8 90.7 863.6 L91 850.5 Q91.1 847.3 94.2 847.4 Z" fill="#c8202a"/>
<path d="M96 851 L111.8 851.5 Q113.5 851.6 113.4 853.2 L113.2 863.4 Q113.1 865 111.5 864.9 L95.8 864.5 Q94.1 864.4 94.2 862.8 L94.4 852.6 Q94.5 851 96 851 Z" fill="#fff"/>
<path d="M100 855 L106.3 858.5 L100 861.9 Z" fill="#c8202a"/>
</svg>
</body></html>
